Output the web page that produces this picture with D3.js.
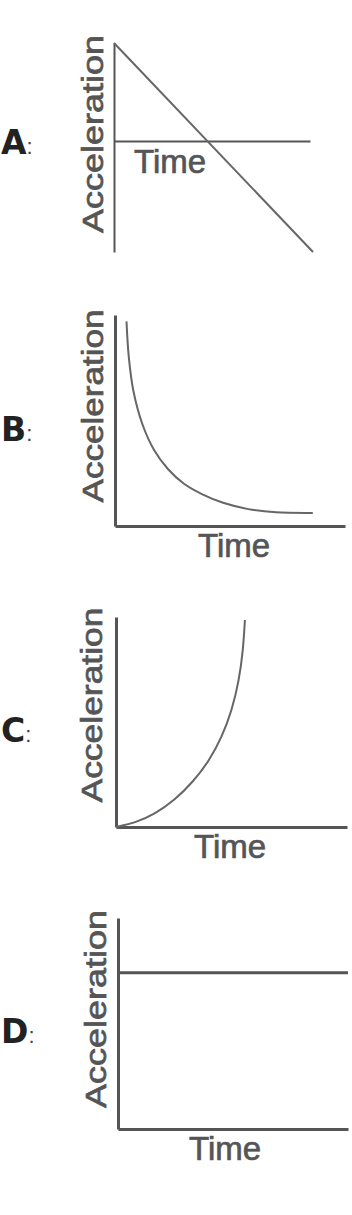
<html>
  <head>
    <meta charset="utf-8">
    <title>Acceleration vs Time</title>
    <script src="https://d3js.org/d3.v7.min.js"></script>
    <style>
      body { margin: 0; background: #fff; }
      svg { display: block; }
    </style>
  </head>
  <body>
    <svg id="chart" width="352" height="1215"></svg>

    <script>
      // answer options and axis titles
      const panelLabels = ["A", "B", "C", "D"];
      const xTitle = "Time";
      const yTitle = "Acceleration";

      // A: straight line falling through zero
      const timeA = [0, 10];
      const accelA = [10, -11.3];

      // B: decay curve
      const timeB = [0.5, 0.6, 0.8, 1.2, 1.7, 2.3, 3.0, 3.8, 4.7, 5.8, 7.0, 8.6];
      const accelB = [9.7, 8.0, 6.4, 4.8, 3.6, 2.7, 2.0, 1.5, 1.1, 0.8, 0.65, 0.62];

      // C: rising curve
      const timeC = [0, 0.82, 1.69, 2.55, 3.33, 4.03, 4.59, 5.02, 5.32, 5.5, 5.58];
      const accelC = [0, 0.19, 0.62, 1.29, 2.14, 3.14, 4.29, 5.57, 6.95, 8.38, 9.86];

      // D: constant
      const timeD = [0, 10];
      const accelD = [7.4, 7.4];

      const series = [
        { time: timeA, accel: accelA },
        { time: timeB, accel: accelB },
        { time: timeC, accel: accelC },
        { time: timeD, accel: accelD }
      ];
      const yDomains = [[-11.3, 10], [0, 10], [0, 10], [0, 10]];

      // where each little plot sits on the page
      const layout = [
        { left: 114, right: 313, axisEnd: 310, top: 43, bottom: 252, label: 154, timeX: 134, timeY: 173, titleX: 103, titleMid: 134, titleLen: 198, axisW: 2 },
        { left: 115, right: 345, axisEnd: 345, top: 315, bottom: 526, label: 441, timeX: 198, timeY: 557, titleX: 103, titleMid: 406, titleLen: 193, axisW: 3 },
        { left: 116, right: 347, axisEnd: 347, top: 617, bottom: 827, label: 742, timeX: 194, timeY: 858, titleX: 102, titleMid: 705, titleLen: 195, axisW: 3 },
        { left: 118, right: 348, axisEnd: 348, top: 918, bottom: 1129, label: 1043, timeX: 189, timeY: 1160, titleX: 106, titleMid: 1009, titleLen: 198, axisW: 3 }
      ];

      const svg = d3.select("svg#chart");
      const ink = "#555";

      layout.forEach(function (p, i) {
        const g = svg.append("g").attr("class", "panel");
        const s = series[i];

        let x = d3.scaleLinear().domain([0, 10]).range([p.left, p.right]);
        let y = d3.scaleLinear().domain(yDomains[i]).range([p.bottom, p.top]);

        // A's time axis stops a little short of its line
        let xAxisScale = x.copy().range([p.left, p.axisEnd]);

        let xAxis = d3.axisBottom(xAxisScale).ticks(0).tickSizeOuter(0);
        let yAxis = d3.axisLeft(y).ticks(0).tickSizeOuter(0);

        g.append("g")
         .attr("transform", "translate(0," + y(0) + ")")
         .call(xAxis)
         .select(".domain")
         .attr("stroke", ink)
         .attr("stroke-width", p.axisW);

        g.append("g")
         .attr("transform", "translate(" + x(0) + ",0)")
         .call(yAxis)
         .select(".domain")
         .attr("stroke", ink)
         .attr("stroke-width", p.axisW);

        let pts = s.time.map((t, k) => [t, s.accel[k]]);
        let line = d3.line()
                     .x(d => x(d[0]))
                     .y(d => y(d[1]))
                     .curve(i == 2 ? d3.curveBasis : d3.curveCatmullRom.alpha(0.5));

        g.append("path")
         .datum(pts)
         .attr("fill", "none")
         .attr("stroke", i == 3 ? ink : "#666")
         .attr("stroke-width", i == 3 ? 3 : 2)
         .attr("d", line);

        // axis titles
        g.append("text")
         .attr("x", p.timeX)
         .attr("y", p.timeY)
         .attr("font-family", "Liberation Sans, Arial, sans-serif")
         .attr("font-size", 33)
         .attr("fill", ink)
         .attr("stroke", ink)
         .attr("stroke-width", 0.7)
         .text(xTitle);

        g.append("text")
         .attr("transform", "translate(" + p.titleX + "," + p.titleMid + ") rotate(-90)")
         .attr("text-anchor", "middle")
         .attr("font-family", "Liberation Sans, Arial, sans-serif")
         .attr("font-size", 30)
         .attr("textLength", p.titleLen)
         .attr("lengthAdjust", "spacingAndGlyphs")
         .attr("fill", ink)
         .attr("stroke", ink)
         .attr("stroke-width", 0.7)
         .text(yTitle);

        // option letter
        let lab = g.append("text")
                   .attr("x", 1)
                   .attr("y", p.label)
                   .attr("fill", "#222");
        lab.append("tspan")
           .attr("font-family", "DejaVu Sans, sans-serif")
           .attr("font-weight", "bold")
           .attr("font-size", 33)
           .text(panelLabels[i]);
        lab.append("tspan")
           .attr("font-family", "Liberation Sans, Arial, sans-serif")
           .attr("font-size", 22)
           .attr("fill", "#444")
           .text(":");
      });
    </script>
  </body>
</html>
